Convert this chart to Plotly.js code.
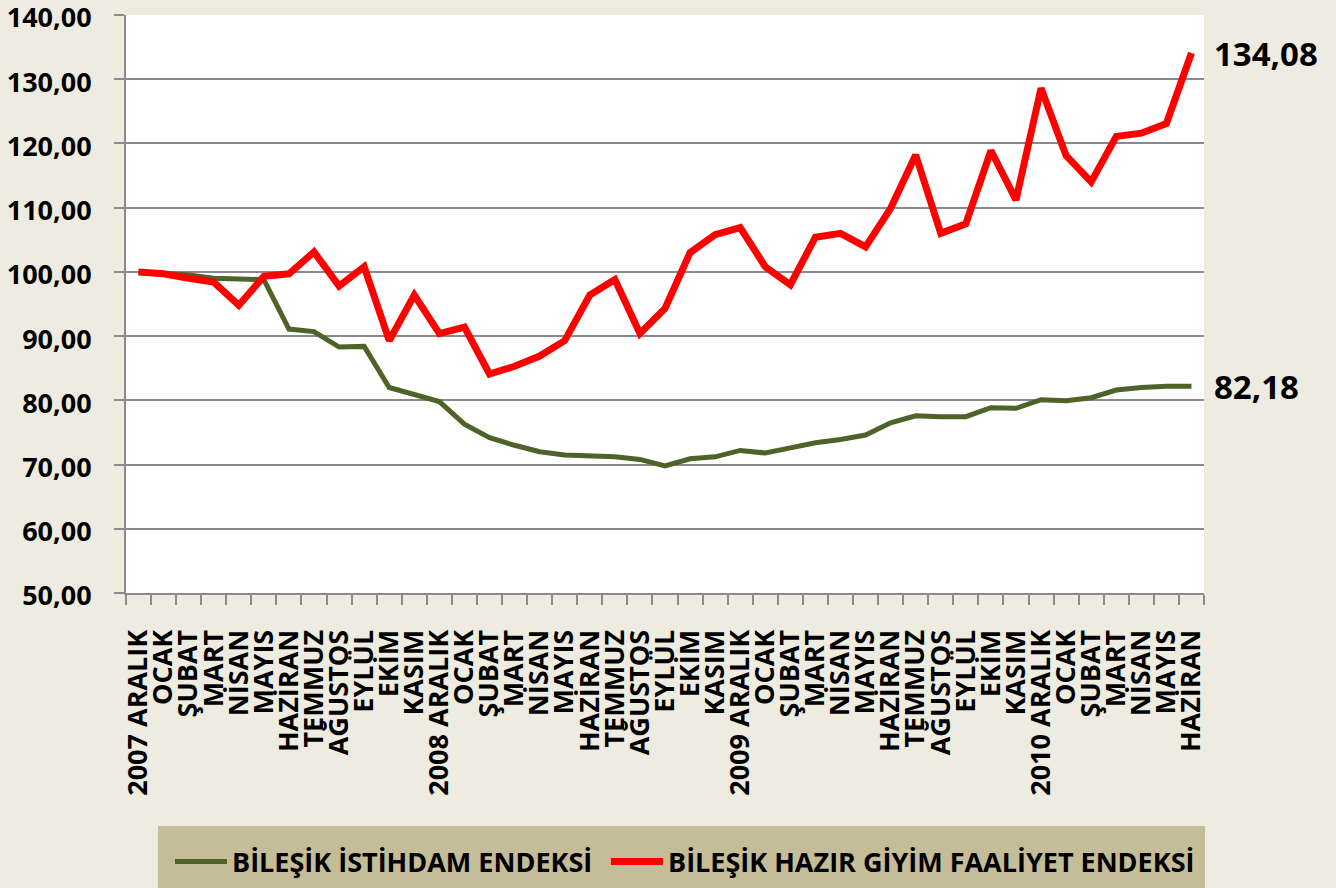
<!DOCTYPE html>
<html>
<head>
<meta charset="utf-8">
<script src="https://cdn.plot.ly/plotly-3.0.1.min.js"></script>
<style>html,body{margin:0;padding:0;background:#EEECE1;}#chart{width:1336px;height:888px;}</style>
</head>
<body>
<div id="chart"></div>
<script>
const tickLabels = [
  "2007 ARALIK","OCAK","ŞUBAT","MART","NİSAN","MAYIS","HAZİRAN","TEMMUZ","AĞUSTOS","EYLÜL","EKİM","KASIM",
  "2008 ARALIK","OCAK","ŞUBAT","MART","NİSAN","MAYIS","HAZİRAN","TEMMUZ","AĞUSTOS","EYLÜL","EKİM","KASIM",
  "2009 ARALIK","OCAK","ŞUBAT","MART","NİSAN","MAYIS","HAZİRAN","TEMMUZ","AĞUSTOS","EYLÜL","EKİM","KASIM",
  "2010 ARALIK","OCAK","ŞUBAT","MART","NİSAN","MAYIS","HAZİRAN"
];
const istihdam = [
  100.0, 99.8, 99.5, 99.0, 98.9, 98.8, 91.1, 90.7, 88.3, 88.4, 82.0, 80.8,
  79.8, 76.3, 74.2, 73.0, 72.0, 71.5, 71.4, 71.2, 70.8, 69.8, 70.9, 71.2,
  72.2, 71.8, 72.6, 73.4, 73.9, 74.6, 76.5, 77.6, 77.45, 77.45, 78.85, 78.75,
  80.1, 79.95, 80.4, 81.6, 82.0, 82.2, 82.18
];
const hazirGiyim = [
  100.0, 99.7, 99.0, 98.4, 94.8, 99.3, 99.7, 103.1, 97.8, 100.8, 89.3, 96.4,
  90.4, 91.4, 84.1, 85.3, 86.9, 89.3, 96.4, 98.8, 90.4, 94.3, 103.0, 105.8,
  106.9, 100.8, 98.0, 105.4, 106.0, 103.9, 109.9, 118.2, 106.0, 107.5, 118.9, 111.2,
  128.6, 118.1, 114.0, 121.1, 121.6, 123.1, 134.08
];
const seriesNames = ["BİLEŞİK İSTİHDAM ENDEKSİ", "BİLEŞİK HAZIR GİYİM FAALİYET ENDEKSİ"];
const yTicks = [50, 60, 70, 80, 90, 100, 110, 120, 130, 140];

const xIdx = tickLabels.map((_, i) => i);
const boundaries = tickLabels.map((_, i) => i - 0.5).concat([tickLabels.length - 0.5]);
const fmt = v => v.toFixed(2).replace('.', ',');
const FONT = "Open Sans, Arial, sans-serif";
const GRID = "#8a8a8a";

const traces = [
  {x: xIdx, y: istihdam, name: seriesNames[0], type: "scatter", mode: "lines", legend: "legend",
   line: {color: "#4F6228", width: 5}, hoverinfo: "skip"},
  {x: xIdx, y: hazirGiyim, name: seriesNames[1], type: "scatter", mode: "lines", legend: "legend2",
   line: {color: "#FF0000", width: 7}, hoverinfo: "skip"}
];

const legendFont = {family: FONT, size: 27, color: "#000", weight: "bold"};
const lastI = tickLabels.length - 1;
const layout = {
  width: 1336, height: 888,
  paper_bgcolor: "#EEECE1", plot_bgcolor: "#FFFFFF",
  margin: {l: 126, r: 132, t: 15, b: 295, pad: 0},
  showlegend: true,
  xaxis: {
    range: [-0.5, tickLabels.length - 0.5],
    tickmode: "array", tickvals: xIdx, ticktext: tickLabels,
    tickangle: -90, ticks: "", showgrid: false, zeroline: false,
    showline: true, linecolor: GRID, linewidth: 2,
    tickfont: {family: FONT, size: 27, color: "#000", weight: "bold"},
    ticklabelstandoff: 24, ticklabeloverflow: "allow",
    minor: {tickmode: "array", tickvals: boundaries, ticks: "outside", ticklen: 10, tickcolor: GRID, tickwidth: 2, showgrid: false},
    automargin: false, fixedrange: true
  },
  yaxis: {
    range: [50, 140], tickmode: "array", tickvals: yTicks, ticktext: yTicks.map(fmt),
    ticks: "outside", ticklen: 10, tickcolor: GRID, tickwidth: 2,
    showgrid: true, gridcolor: GRID, gridwidth: 2, zeroline: false,
    showline: true, linecolor: GRID, linewidth: 2,
    tickfont: {family: FONT, size: 27, color: "#000", weight: "bold"},
    ticklabelstandoff: 17, ticklabelshift: 3, ticklabeloverflow: "allow",
    automargin: false, fixedrange: true
  },
  legend: {
    orientation: "h", xref: "container", yref: "container",
    x: 170 / 1336, xanchor: "left", y: 1 - 862 / 888, yanchor: "middle",
    bgcolor: "rgba(0,0,0,0)", font: legendFont, itemwidth: 52
  },
  legend2: {
    orientation: "h", xref: "container", yref: "container",
    x: 606 / 1336, xanchor: "left", y: 1 - 862 / 888, yanchor: "middle",
    bgcolor: "rgba(0,0,0,0)", font: legendFont, itemwidth: 52
  },
  shapes: [{
    type: "rect", xref: "paper", yref: "paper",
    x0: 0.0297, x1: 1.0009, y0: -0.5104, y1: -0.4031,
    fillcolor: "#C4BD97", line: {width: 0}, layer: "below"
  }],
  annotations: [
    {xref: "paper", yref: "y", x: (1212 - 126) / 1078, y: hazirGiyim[lastI], xanchor: "left", yanchor: "middle",
     text: fmt(hazirGiyim[lastI]), showarrow: false, font: {family: FONT, size: 33, color: "#000", weight: "bold"}},
    {xref: "paper", yref: "y", x: (1212 - 126) / 1078, y: istihdam[lastI], xanchor: "left", yanchor: "middle",
     text: fmt(istihdam[lastI]), showarrow: false, font: {family: FONT, size: 33, color: "#000", weight: "bold"}}
  ]
};

Plotly.newPlot("chart", traces, layout, {displayModeBar: false, staticPlot: true});
</script>
</body>
</html>
